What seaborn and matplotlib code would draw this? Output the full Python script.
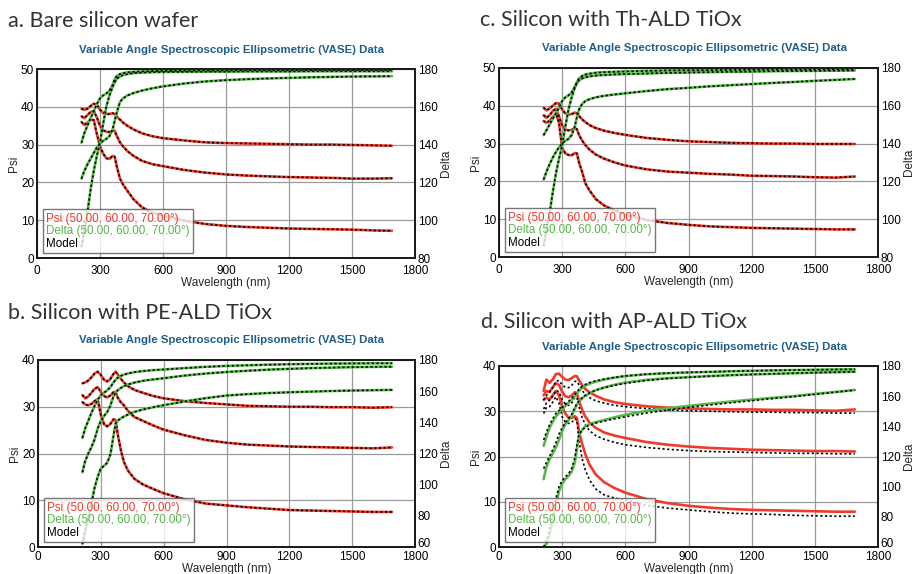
import matplotlib
matplotlib.use("Agg")
import matplotlib.pyplot as plt
import seaborn as sns
from matplotlib.lines import Line2D

# ---------------- data ----------------
WL = [212, 225, 240, 255, 270, 285, 300, 315, 330, 345, 360, 370, 380, 395,
      410, 430, 460, 500, 550, 600, 700, 800, 900, 1000, 1100, 1200, 1300,
      1400, 1500, 1600, 1690]

# a. Bare silicon wafer
A_PSI50 = [39.5, 39.2, 39.5, 40.2, 40.8, 40.6, 39.2, 38.4, 38.1, 38.1, 38.3, 38.1, 37.4, 36.6,
           35.8, 35.0, 34.0, 33.0, 32.2, 31.7, 31.1, 30.6, 30.4, 30.3, 30.2, 30.1, 30.0, 30.0, 29.9, 29.8, 29.7]
A_PSI60 = [37.5, 37.0, 37.8, 38.6, 38.9, 37.2, 35.0, 33.8, 33.4, 33.3, 33.8, 33.6, 32.3, 30.6,
           29.5, 28.3, 27.0, 25.7, 24.8, 24.3, 23.3, 22.6, 22.1, 21.8, 21.6, 21.4, 21.3, 21.2, 21.0, 21.0, 21.1]
A_PSI70 = [36.0, 35.2, 35.8, 36.6, 36.5, 32.8, 29.5, 27.6, 26.4, 26.2, 27.0, 26.8, 24.2, 21.0,
           19.4, 17.8, 15.5, 13.4, 12.0, 11.2, 9.9, 9.0, 8.5, 8.2, 8.0, 7.8, 7.7, 7.6, 7.5, 7.3, 7.2]
A_DEL50 = [141, 146, 150, 154, 157.5, 161.5, 164.5, 166, 167, 168.5, 171.5, 174.5, 176.3, 177.3,
           177.8, 178.2, 178.5, 178.7, 178.9, 179.0, 179.1, 179.2, 179.2, 179.3, 179.3, 179.3, 179.4, 179.4, 179.4, 179.4, 179.4]
A_DEL60 = [122, 126, 129.5, 132.5, 135.5, 138.5, 140.5, 142, 143, 144.5, 148, 152.5, 157, 162.5,
           164.5, 166, 167.3, 168.6, 169.8, 170.8, 172.3, 173.4, 174.1, 174.6, 175.0, 175.3, 175.6, 175.8, 176.0, 176.1, 176.2]
A_DEL70 = [86, 94, 104, 116, 126, 134, 141, 151, 160, 166, 170.5, 173, 174.8, 176.0,
           176.8, 177.3, 177.8, 178.1, 178.3, 178.4, 178.5, 178.6, 178.6, 178.7, 178.7, 178.7, 178.8, 178.8, 178.8, 178.8, 178.8]

# b. Silicon with PE-ALD TiOx
B_PSI50 = [35.0, 35.2, 35.6, 36.3, 37.1, 37.5, 36.8, 35.8, 35.4, 35.9, 37.0, 37.5, 37.0, 36.0,
           35.2, 34.4, 33.6, 33.0, 32.3, 31.8, 31.2, 30.8, 30.5, 30.2, 30.1, 30.0, 30.0, 29.9, 29.9, 29.8, 29.9]
B_PSI60 = [32.5, 31.8, 32.2, 33.0, 33.8, 34.2, 33.2, 32.3, 32.0, 32.4, 33.1, 33.2, 32.0, 31.0,
           30.3, 29.1, 27.8, 27.0, 26.0, 25.1, 23.9, 22.9, 22.3, 21.9, 21.7, 21.5, 21.4, 21.3, 21.2, 21.1, 21.3]
B_PSI70 = [31.0, 30.5, 30.3, 30.6, 31.2, 31.6, 28.3, 26.3, 25.8, 26.3, 27.3, 27.2, 24.3, 20.8,
           18.2, 16.3, 14.6, 13.4, 12.4, 11.5, 10.2, 9.3, 8.9, 8.5, 8.2, 7.9, 7.8, 7.7, 7.6, 7.5, 7.5]
B_DEL50 = [130, 136, 141, 146, 150.5, 154.5, 157.5, 159, 160.5, 162.5, 165.5, 167.3, 168.6, 169.8,
           170.6, 171.4, 172.2, 172.9, 173.5, 173.9, 174.8, 175.6, 176.2, 176.6, 177.0, 177.3, 177.5, 177.7, 177.8, 177.9, 177.9]
B_DEL60 = [108, 115, 120, 124, 129, 136, 141, 144, 146.5, 150.5, 156.5, 159, 160.5, 162,
           163.2, 164.3, 165.5, 166.6, 167.5, 168.3, 170, 171.3, 172.3, 173.1, 173.8, 174.3, 174.8, 175.1, 175.4, 175.6, 175.7]
B_DEL70 = [62, 70, 79, 88, 98, 105, 110.5, 112, 114, 119, 131, 139, 141, 142.5,
           143.7, 145, 146.7, 148.2, 149.7, 151, 153.4, 155.5, 157.2, 158.1, 158.8, 159.3, 159.7, 160.1, 160.4, 160.6, 160.8]

# c. Silicon with Th-ALD TiOx
C_PSI50 = [39.5, 38.8, 39.3, 40.0, 40.7, 40.6, 39.0, 38.0, 37.7, 37.8, 38.2, 38.0, 37.3, 36.4,
           35.7, 34.9, 34.1, 33.4, 32.8, 32.3, 31.5, 31.0, 30.6, 30.4, 30.2, 30.1, 30.0, 30.0, 29.9, 29.9, 29.9]
C_PSI60 = [37.5, 36.8, 37.5, 38.6, 39.2, 37.2, 34.8, 33.7, 33.5, 33.6, 34.1, 33.8, 32.3, 30.8,
           29.6, 28.4, 27.1, 26.0, 25.0, 24.2, 23.2, 22.6, 22.3, 22.0, 21.8, 21.5, 21.4, 21.3, 21.1, 21.0, 21.3]
C_PSI70 = [36.0, 35.5, 36.0, 37.0, 38.0, 35.5, 28.8, 27.4, 27.0, 26.9, 27.5, 27.4, 25.0, 22.5,
           19.5, 17.6, 15.3, 13.6, 12.3, 11.3, 9.8, 9.0, 8.5, 8.1, 7.9, 7.7, 7.6, 7.5, 7.4, 7.3, 7.3]
C_DEL50 = [144.5, 147, 150, 153, 156, 159, 162.5, 164.5, 165.5, 167, 170, 172.5, 174.5, 175.8,
           176.5, 177, 177.5, 177.8, 178.0, 178.2, 178.5, 178.7, 178.8, 178.9, 179.0, 179.1, 179.2, 179.2, 179.3, 179.3, 179.4]
C_DEL60 = [121, 125, 129, 132.5, 135.5, 138, 140, 141.5, 142.5, 144.5, 149, 154, 158, 161.0,
           162.5, 163.5, 164.5, 165.3, 166.0, 166.6, 167.8, 168.8, 169.5, 170.3, 170.9, 171.5, 172.1, 172.6, 173.2, 173.7, 174.2]
C_DEL70 = [86, 94, 103, 114, 124, 132, 139, 149, 158, 164.5, 169.5, 172, 173.5, 174.5,
           175.1, 175.6, 176.0, 176.3, 176.6, 176.8, 177.1, 177.4, 177.6, 177.8, 178.0, 178.1, 178.3, 178.4, 178.5, 178.6, 178.7]

# d. Silicon with AP-ALD TiOx (data and model differ)
D_PSI50 = [34.5, 37.0, 36.3, 37.0, 38.2, 38.3, 37.6, 37.0, 36.9, 37.3, 37.8, 37.7, 36.8, 35.8,
           34.9, 34.2, 33.4, 32.6, 32.0, 31.6, 31.1, 30.8, 30.6, 30.5, 30.4, 30.4, 30.3, 30.3, 30.2, 30.1, 30.4]
D_PSI60 = [33.5, 34.5, 34.3, 35.3, 36.2, 35.8, 34.3, 33.3, 33.1, 33.5, 34.2, 33.9, 32.3, 30.3,
           28.8, 27.5, 26.3, 25.3, 24.6, 24.1, 23.2, 22.6, 22.2, 21.9, 21.7, 21.5, 21.4, 21.3, 21.2, 21.2, 21.1]
D_PSI70 = [32.5, 33.0, 32.6, 33.5, 34.5, 33.5, 31.0, 29.5, 28.6, 28.5, 28.9, 28.5, 25.5, 22.8,
           20.5, 18.2, 16.0, 14.3, 13.0, 12.0, 10.6, 9.7, 9.1, 8.7, 8.4, 8.2, 8.1, 8.0, 7.9, 7.8, 7.8]
D_DEL50 = [127, 133, 139, 143, 146.5, 149, 151.5, 153.5, 155.5, 157.5, 160, 162, 163.5, 165.5,
           167, 168.3, 169.7, 171, 172.3, 173.3, 174.5, 175.2, 175.7, 176.1, 176.5, 176.8, 177.1, 177.3, 177.5, 177.7, 177.8]
D_DEL60 = [105, 113, 118, 122, 126, 131, 137, 141.5, 144, 147, 151.5, 154.5, 156.5, 158.5,
           160.3, 162, 164, 165.8, 167.6, 169, 170.8, 171.9, 172.6, 173.3, 173.9, 174.4, 174.8, 175.2, 175.6, 175.9, 176.2]
D_DEL70 = [60, 62, 68, 77, 87, 97, 102, 105, 107, 110, 116, 125, 134, 137.8,
           140, 141.5, 142.8, 144.2, 146, 147.6, 150.2, 152, 153.5, 155, 156.4, 157.7, 158.9, 160, 161.5, 162.8, 164.1]
D_MOD_PSI50 = [32.5, 33.5, 34.2, 35.2, 36.6, 36.8, 35.8, 35.3, 35.2, 35.7, 36.6, 36.6, 35.8, 34.6,
               33.7, 33.0, 32.3, 31.8, 31.3, 31.0, 30.6, 30.3, 30.1, 30.0, 29.9, 29.8, 29.8, 29.7, 29.7, 29.6, 29.6]
D_MOD_PSI60 = [30.5, 31.8, 32.5, 33.3, 34.6, 34.3, 32.6, 31.6, 31.3, 31.8, 33.0, 33.1, 31.0, 28.6,
               27.0, 25.7, 24.6, 23.8, 23.1, 22.6, 22.0, 21.6, 21.3, 21.1, 21.0, 20.9, 20.8, 20.7, 20.7, 20.6, 20.6]
D_MOD_PSI70 = [29.5, 30.8, 31.0, 32.0, 33.2, 31.8, 28.8, 27.6, 27.3, 27.5, 28.4, 28.0, 23.5, 19.5,
               17.0, 14.8, 12.8, 11.5, 10.8, 10.4, 9.2, 8.6, 8.2, 7.8, 7.5, 7.3, 7.2, 7.0, 6.9, 6.8, 6.8]
D_MOD_DEL50 = [131, 136, 141, 145, 148.5, 150.5, 152.5, 154.5, 156.5, 158.5, 161, 163, 164.5, 166.5,
               167.8, 169, 170.2, 171.3, 172.5, 173.4, 174.6, 175.3, 175.8, 176.1, 176.5, 176.8, 177.1, 177.3, 177.5, 177.7, 177.8]
D_MOD_DEL60 = [112, 116, 120, 124.5, 129, 135, 139, 142.5, 145, 148, 152.5, 155, 157, 159,
               160.6, 162.2, 164, 165.6, 167.2, 168.5, 170.4, 171.7, 172.5, 173.3, 173.9, 174.4, 174.8, 175.2, 175.6, 175.9, 176.2]
D_MOD_DEL70 = [60, 64, 72, 82, 92, 100, 104, 106.5, 108.5, 112, 119, 128, 134.5, 137.5,
               139.3, 140.8, 142.2, 143.5, 145, 146.3, 148.8, 150.8, 152.5, 154.1, 155.6, 157.0, 158.4, 159.7, 161.2, 162.7, 164.0]

TITLES = ["a. Bare silicon wafer", "b. Silicon with PE-ALD TiOx",
          "c. Silicon with Th-ALD TiOx", "d. Silicon with AP-ALD TiOx"]
SUBTITLE = "Variable Angle Spectroscopic Ellipsometric (VASE) Data"
LEGEND_LABELS = ["Psi (50.00, 60.00, 70.00\u00b0)", "Delta (50.00, 60.00, 70.00\u00b0)", "Model"]
X_TICKS = [0, 300, 600, 900, 1200, 1500, 1800]

# ---------------- style ----------------
sns.set_theme(style="white")
plt.rcParams["font.family"] = ["Liberation Sans", "DejaVu Sans"]

RED = "#ef3a2d"
GREEN = "#55b847"
BLUE = "#1f5d8c"
W, H = 915, 574
DOTS = (0, (1.3, 1.5))

fig = plt.figure(figsize=(W / 100, H / 100), dpi=100)


def rect(l, t, r, b):
    return [l / W, 1 - b / H, (r - l) / W, (b - t) / H]


def panel(box, psis, dels, mpsis, mdels, psi_lim, del_lim, psi_ticks, del_ticks,
          xtickpad=5, xlabelpad=0, lift_first=False):
    ax = fig.add_axes(rect(*box))
    ax2 = ax.twinx()
    for p in psis:
        sns.lineplot(x=WL, y=p, ax=ax, color=RED, lw=1.9, sort=False, estimator=None, legend=False)
    for p in mpsis:
        sns.lineplot(x=WL, y=p, ax=ax, color="black", lw=1.2, sort=False, estimator=None,
                     legend=False, linestyle=DOTS)
    for d in dels:
        sns.lineplot(x=WL, y=d, ax=ax2, color=GREEN, lw=1.9, sort=False, estimator=None, legend=False)
    for d in mdels:
        sns.lineplot(x=WL, y=d, ax=ax2, color="black", lw=1.2, sort=False, estimator=None,
                     legend=False, linestyle=DOTS)
    ax.set_xlim(0, 1800)
    ax.set_ylim(*psi_lim)
    ax2.set_ylim(*del_lim)
    ax.set_xticks(X_TICKS)
    ax.set_yticks(psi_ticks)
    ax2.set_yticks(del_ticks)
    ax2.set_yticklabels([str(v) for v in del_ticks])
    ax.grid(True, color="#9a9a9a", lw=0.9)
    ax2.grid(False)
    ax.set_axisbelow(True)
    for a in (ax, ax2):
        a.tick_params(length=0, pad=2, labelsize=8.5, colors="black")
        for s in a.spines.values():
            s.set_color("#1a1a1a")
            s.set_linewidth(1.3)
    if lift_first:
        ax2.get_yticklabels()[0].set_verticalalignment("baseline")
    ax.tick_params(axis="x", pad=xtickpad)
    ax.set_xlabel("Wavelength (nm)", fontsize=8.5, labelpad=xlabelpad)
    ax.set_ylabel("Psi", fontsize=8.5, labelpad=1)
    ax2.set_ylabel("Delta", fontsize=8.5, labelpad=2)
    handles = [Line2D([], [], lw=0) for _ in LEGEND_LABELS]
    leg = ax2.legend(handles, LEGEND_LABELS, loc="lower left", bbox_to_anchor=(0.015, 0.025),
                     handlelength=0, handletextpad=0, fontsize=8.4, frameon=True, fancybox=False,
                     borderpad=0.3, labelspacing=0.05, borderaxespad=0,
                     labelcolor=[RED, GREEN, "black"])
    leg.get_frame().set_edgecolor("#555555")
    leg.get_frame().set_linewidth(1.0)
    leg.set_zorder(10)
    return ax


# panel a
panel((37, 69, 415, 258), [A_PSI50, A_PSI60, A_PSI70], [A_DEL50, A_DEL60, A_DEL70],
      [A_PSI50, A_PSI60, A_PSI70], [A_DEL50, A_DEL60, A_DEL70],
      (0, 50), (80, 180), [0, 10, 20, 30, 40, 50], [80, 100, 120, 140, 160, 180])
# panel c
panel((499, 68, 878, 257), [C_PSI50, C_PSI60, C_PSI70], [C_DEL50, C_DEL60, C_DEL70],
      [C_PSI50, C_PSI60, C_PSI70], [C_DEL50, C_DEL60, C_DEL70],
      (0, 50), (80, 180), [0, 10, 20, 30, 40, 50], [80, 100, 120, 140, 160, 180])
# panel b
panel((38, 360, 415, 547), [B_PSI50, B_PSI60, B_PSI70], [B_DEL50, B_DEL60, B_DEL70],
      [B_PSI50, B_PSI60, B_PSI70], [B_DEL50, B_DEL60, B_DEL70],
      (0, 40), (60, 180), [0, 10, 20, 30, 40], [60, 80, 100, 120, 140, 160, 180],
      xtickpad=3, xlabelpad=0, lift_first=True)
# panel d
panel((499, 366, 878, 547), [D_PSI50, D_PSI60, D_PSI70], [D_DEL50, D_DEL60, D_DEL70],
      [D_MOD_PSI50, D_MOD_PSI60, D_MOD_PSI70], [D_MOD_DEL50, D_MOD_DEL60, D_MOD_DEL70],
      (0, 40), (60, 180), [0, 10, 20, 30, 40], [60, 80, 100, 120, 140, 160, 180],
      xtickpad=3, xlabelpad=0, lift_first=True)

# titles and subtitles
for txt, (x, y) in zip(TITLES, [(8, 21), (8, 313), (480, 20), (481, 322)]):
    fig.text(x / W, 1 - y / H, txt, ha="left", va="center", fontsize=15.5,
             color="#333333", family=["Lato", "DejaVu Sans"])
for (x, y) in [(231, 50), (231, 340), (694, 48), (694, 347)]:
    fig.text(x / W, 1 - y / H, SUBTITLE, ha="center", va="center", fontsize=8.2,
             fontweight="bold", color=BLUE)

fig.savefig("out.png", dpi=100)
